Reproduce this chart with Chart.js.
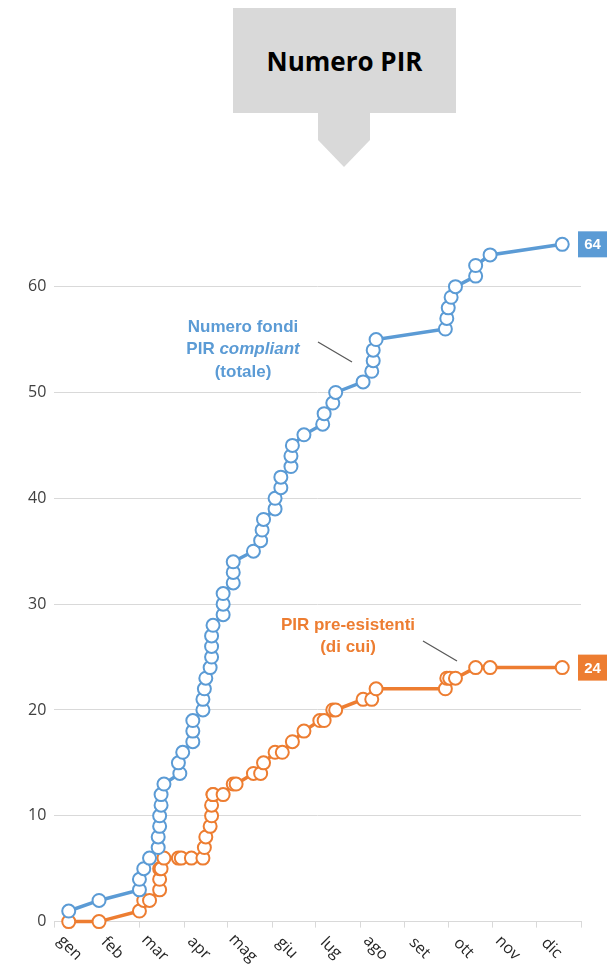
<!DOCTYPE html>
<html><head><meta charset="utf-8">
<script src="https://cdn.jsdelivr.net/npm/chart.js@4"></script>
<style>
body{margin:0;background:#fff;width:616px;height:973px;overflow:hidden;font-family:"Liberation Sans",Arial,sans-serif}
#wrap{position:absolute;left:0;top:0;width:616px;height:973px}
#title{position:absolute;left:233px;top:8px;width:223px;height:105px;background:#d9d9d9;display:flex;align-items:center;justify-content:center;font-weight:bold;font-size:26px;color:#000;font-family:"Open Sans",sans-serif}
#arrow{position:absolute;left:318px;top:113px;width:52px;height:27px;background:#d9d9d9}
#arrow2{position:absolute;left:318px;top:140px;width:0;height:0;border-left:26px solid transparent;border-right:26px solid transparent;border-top:27px solid #d9d9d9}
</style></head><body>
<div id="wrap"><canvas id="c" width="616" height="973"></canvas></div>
<div id="title">Numero PIR</div><div id="arrow"></div><div id="arrow2"></div>
<script>
const months=['gen','feb','mar','apr','mag','giu','lug','ago','set','ott','nov','dic'];
const monthStarts=[0,31,59,90,120,151,181,212,243,273,304,334,365];
const totDays=[10,31,59,59,62,66,72,72,73,73,74,74,76,87,86,89,96,96,96,103,103,104,105,108,109,109,109,110,117,117,117,124,124,124,138,143,144,145,153,153,157,157,164,164,165,173,186,187,193,195,214,220,221,221,223,271,272,273,275,278,292,292,302,352];
const totVals=[1,2,3,4,5,6,7,8,9,10,11,12,13,14,15,16,17,18,19,20,21,22,23,24,25,26,27,28,29,30,31,32,33,34,35,36,37,38,39,40,41,42,43,44,45,46,47,48,49,50,51,52,53,54,55,56,57,58,59,60,61,62,63,64];
const preDays=[10,31,59,62,66,73,73,73,74,76,86,88,95,103,104,105,108,109,109,110,110,117,124,126,138,143,145,153,158,165,173,184,187,193,195,214,220,223,271,272,274,278,292,302,352];
const preVals=[0,0,1,2,2,3,4,5,5,6,6,6,6,6,7,8,9,10,11,12,12,12,13,13,14,14,15,16,16,17,18,19,19,20,20,21,21,22,22,23,23,23,24,24,24];
const blue='#5B9BD5',orange='#ED7D31';
const mk=(d,v)=>d.map((x,i)=>({x:x,y:v[i]}));
const ds=(data,col)=>({data,clip:false,borderColor:col,backgroundColor:'#fff',borderWidth:3.5,pointRadius:6.5,pointBorderWidth:2,pointBackgroundColor:'#fff',pointBorderColor:col,tension:0});
const deco={id:'deco',afterDraw(ch){
 const c=ch.ctx,xs=ch.scales.x,ys=ch.scales.y;
 c.save();
 c.fillStyle='#262626';c.font='16px "Open Sans",sans-serif';
 months.forEach((m,i)=>{const cx=xs.getPixelForValue((monthStarts[i]+monthStarts[i+1])/2);
  c.save();c.translate(cx-7,948);c.rotate(Math.PI/4);c.textAlign='center';c.textBaseline='middle';c.fillText(m,0,0);c.restore();});
 c.textAlign='center';c.textBaseline='middle';
 c.fillStyle=blue;c.font='bold 17px "Liberation Sans",Arial';
 c.fillText('Numero fondi',243,327);
 const w1=c.measureText('PIR ').width;c.font='italic bold 17px "Liberation Sans",Arial';const w2=c.measureText('compliant').width;
 const sx=243-(w1+w2)/2;c.textAlign='left';c.font='bold 17px "Liberation Sans",Arial';c.fillText('PIR ',sx,349);
 c.font='italic bold 17px "Liberation Sans",Arial';c.fillText('compliant',sx+w1,349);
 c.textAlign='center';c.font='bold 17px "Liberation Sans",Arial';c.fillText('(totale)',243,372);
 c.fillStyle=orange;c.fillText('PIR pre-esistenti',348,625);c.fillText('(di cui)',348,647);
 c.strokeStyle='#595959';c.lineWidth=1.3;c.beginPath();c.moveTo(318,342);c.lineTo(352,362);c.moveTo(423,641);c.lineTo(457,661);c.stroke();
 [[64,blue],[24,orange]].forEach(([v,col])=>{const y=ys.getPixelForValue(v);c.fillStyle=col;c.fillRect(578,y-13,29,26);
  c.fillStyle='#fff';c.font='bold 15px "Liberation Sans",Arial';c.fillText(String(v),592.5,y+1);});
 c.restore();}};
new Chart(document.getElementById('c'),{type:'line',
 data:{datasets:[ds(mk(totDays,totVals),blue),ds(mk(preDays,preVals),orange)]},
 options:{responsive:false,animation:false,layout:{padding:{left:20,right:35,top:202,bottom:31}},
  plugins:{legend:{display:false},tooltip:{enabled:false}},
  scales:{
   x:{type:'linear',min:0,max:365,afterBuildTicks:a=>{a.ticks=monthStarts.map(v=>({value:v}));},
     ticks:{callback:()=>'',padding:0},grid:{drawOnChartArea:false,tickLength:6,color:'#d9d9d9'},border:{color:'#d9d9d9'}},
   y:{min:0,max:68,afterBuildTicks:a=>{a.ticks=[0,10,20,30,40,50,60].map(v=>({value:v}));},
     ticks:{color:'#404040',font:{size:16,family:'"Open Sans",sans-serif'},padding:8},
     grid:{color:'#d9d9d9',drawTicks:false},border:{display:false}}
  }},plugins:[deco]});
</script></body></html>
